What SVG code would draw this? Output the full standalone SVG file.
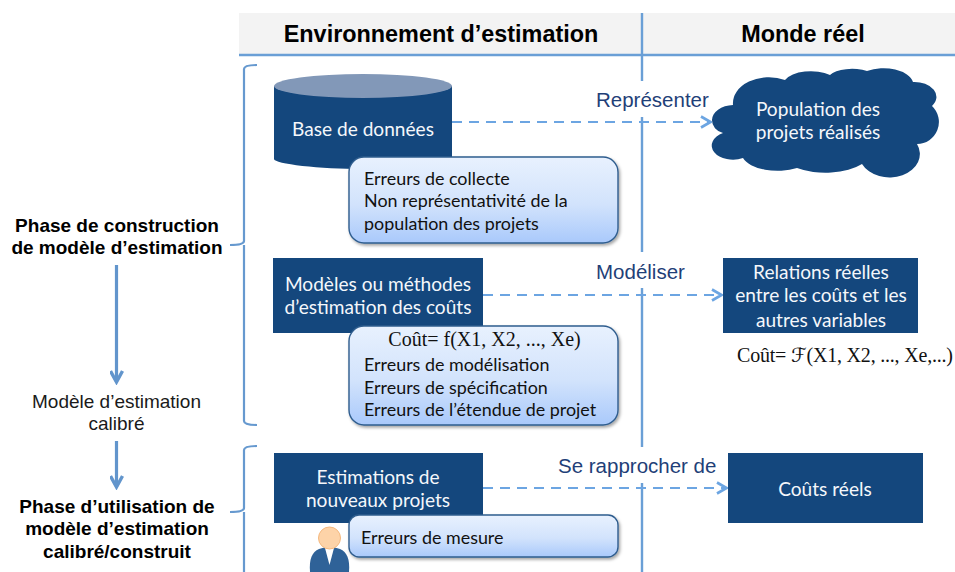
<svg xmlns="http://www.w3.org/2000/svg" width="955" height="572" viewBox="0 0 955 572">
<style>
.nodefill{fill:#14477d}
.w{font-family:"Lato","Carlito","Liberation Sans",sans-serif;font-size:19.1px;fill:#f4f7fb;text-anchor:middle}
.k{font-family:"Lato","Carlito","Liberation Sans",sans-serif;font-size:17.9px;fill:#111}
.h{font-family:"Liberation Sans",Arial,sans-serif;font-size:23.4px;font-weight:bold;fill:#000;text-anchor:middle}
.p{font-family:"Liberation Sans",Arial,sans-serif;font-size:19px;font-weight:bold;fill:#000;text-anchor:middle}
.n{font-family:"Liberation Sans",Arial,sans-serif;font-size:19px;fill:#1a1a1a;text-anchor:middle}
.l{font-family:"Liberation Sans",Arial,sans-serif;font-size:20.5px;fill:#1f3f78}
.f{font-family:"Liberation Serif","Times New Roman",serif;font-size:20px;fill:#111}
.rule{stroke:#6a9fd6;stroke-width:2.4;fill:none}
.brace{stroke:#6699cf;stroke-width:2.2;fill:none}
.dash{stroke:#6ca5e2;stroke-width:2.2;stroke-dasharray:10 7;fill:none}
.down{stroke:#6295cc;stroke-width:3.2;fill:none}
.callout{fill:url(#cg);stroke:#2f5d8e;stroke-width:1.4;filter:url(#sh)}
</style>
<defs>
<linearGradient id="cg" x1="0" y1="0" x2="0" y2="1"><stop offset="0" stop-color="#e8f1fe"/><stop offset="0.55" stop-color="#d2e3fc"/><stop offset="1" stop-color="#a9c9fb"/></linearGradient>
<filter id="sh" x="-5%" y="-10%" width="112%" height="125%"><feDropShadow dx="1.5" dy="2" stdDeviation="1.5" flood-color="#000" flood-opacity="0.35"/></filter>
<marker id="open" viewBox="0 0 12 14" refX="11" refY="7" markerUnits="userSpaceOnUse" markerWidth="12" markerHeight="14" orient="auto"><path d="M1 1.500 L10.500 7 L1 12.500" fill="none" stroke="#6ca5e2" stroke-width="2.6"/></marker>
<marker id="down" viewBox="0 0 16 14" refX="13" refY="7" markerUnits="userSpaceOnUse" markerWidth="16" markerHeight="14" orient="auto"><path d="M2 1 L13 7 L2 13" fill="none" stroke="#6295cc" stroke-width="3.4"/></marker>
</defs>
<g id="header">
<rect x="239" y="13" width="716" height="41" fill="#f3f3f3"/>
<text class="h" x="441" y="42">Environnement d’estimation</text>
<text class="h" x="803" y="42">Monde réel</text>
</g>
<g id="rules">
<path class="rule" d="M239 55H955M642 13V81M642 117V252M642 288V447M642 483V572"/>
</g>
<g id="brace-construction"><path class="brace" d="M257 65Q244 65 244 69V241Q244 245 230 245M244 245V421Q244 425 257 425"/></g>
<g id="brace-utilisation"><path class="brace" d="M257 446Q244 446 244 450V508Q244 512 230 512M244 512V572"/></g>
<g id="connectors">
<path class="dash" d="M452 122H711" marker-end="url(#open)"/>
<path class="dash" d="M483 295H722" marker-end="url(#open)"/>
<path class="dash" d="M483 488H727" marker-end="url(#open)"/>
<path class="down" d="M116.500 265V382" marker-end="url(#down)"/>
<path class="down" d="M116.500 441V487" marker-end="url(#down)"/>
</g>
<g id="labels">
<text class="l" x="596" y="107">Représenter</text>
<text class="l" x="596" y="279">Modéliser</text>
<text class="l" x="558" y="473">Se rapprocher de</text>
</g>
<g id="phase-construction">
<text class="p" x="117" y="232">Phase de construction</text>
<text class="p" x="117" y="254">de modèle d’estimation</text>
</g>
<g id="modele-calibre">
<text class="n" x="116.500" y="408">Modèle d’estimation</text>
<text class="n" x="116.500" y="430">calibré</text>
</g>
<g id="phase-utilisation">
<text class="p" x="117" y="513">Phase d’utilisation de</text>
<text class="p" x="117" y="535">modèle d’estimation</text>
<text class="p" x="117" y="558">calibré/construit</text>
</g>
<g id="base-de-donnees">
<path class="nodefill" d="M274 86V159C274 164 320 169 363 169C406 169 452 164 452 159V86Z"/>
<ellipse cx="363" cy="86" rx="89" ry="12" fill="#8298b8"/>
<text class="w" x="363" y="136">Base de données</text>
</g>
<g id="erreurs-collecte">
<rect class="callout" x="349" y="157" width="269" height="86" rx="15"/>
<text class="k" x="364" y="185">Erreurs de collecte</text>
<text class="k" x="364" y="207">Non représentativité de la</text>
<text class="k" x="364" y="230">population des projets</text>
</g>
<g id="population">
<path class="nodefill" d="M712 120A22 15 0 0 1 733 105A36 26 0 0 1 785 80A28 14 0 0 1 830 75A24 10 0 0 1 867 71A30 17 0 0 1 913 82A22 15 0 0 1 932 106A22 22 0 0 1 917 144A22 17 0 0 1 862 164A46 22 0 0 1 797 168A36 18 0 0 1 743 158A18 12 0 0 1 723 133A14 13 0 0 1 712 120Z"/>
<text class="w" x="818" y="116">Population des</text>
<text class="w" x="818" y="139">projets réalisés</text>
</g>
<g id="modeles">
<rect class="nodefill" x="273" y="258" width="210" height="75"/>
<text class="w" x="378" y="291">Modèles ou méthodes</text>
<text class="w" x="378" y="314">d’estimation des coûts</text>
</g>
<g id="erreurs-modele">
<rect class="callout" x="349" y="326" width="269" height="99" rx="15"/>
<text class="f" x="484.500" y="346" text-anchor="middle">Coût= f(X1, X2, ..., Xe)</text>
<text class="k" x="364" y="371">Erreurs de modélisation</text>
<text class="k" x="364" y="394">Erreurs de spécification</text>
<text class="k" x="364" y="416">Erreurs de l’étendue de projet</text>
</g>
<g id="relations">
<rect class="nodefill" x="723" y="258" width="195" height="75"/>
<text class="w" x="821" y="279">Relations réelles</text>
<text class="w" x="821" y="302">entre les coûts et les</text>
<text class="w" x="821" y="327">autres variables</text>
</g>
<g id="formule-reelle">
<text class="f" x="737" y="362" textLength="216" lengthAdjust="spacing">Coût= <tspan font-family="DejaVu Serif, DejaVu Sans, serif" font-style="italic">ℱ</tspan>(X1, X2, ..., Xe,...)</text>
</g>
<g id="estimations">
<rect class="nodefill" x="274" y="453" width="209" height="70"/>
<text class="w" x="378" y="484">Estimations de</text>
<text class="w" x="378" y="507">nouveaux projets</text>
</g>
<g id="utilisateur">
<path d="M310 572C309 559 312 552 319 549L329.500 546L340 549C347 552 350 559 349 572Z" fill="#2f6298"/>
<path d="M325 548L329.500 565L334 548Z" fill="#fff"/>
<circle cx="329.500" cy="538" r="11" fill="#fdd3a8" stroke="#f4b87e" stroke-width="1"/>
</g>
<g id="erreurs-mesure">
<rect class="callout" x="349" y="515" width="269" height="42" rx="10"/>
<text class="k" x="361" y="544">Erreurs de mesure</text>
</g>
<g id="couts-reels">
<rect class="nodefill" x="728" y="453" width="195" height="70"/>
<text class="w" x="825" y="496">Coûts réels</text>
</g>
</svg>
